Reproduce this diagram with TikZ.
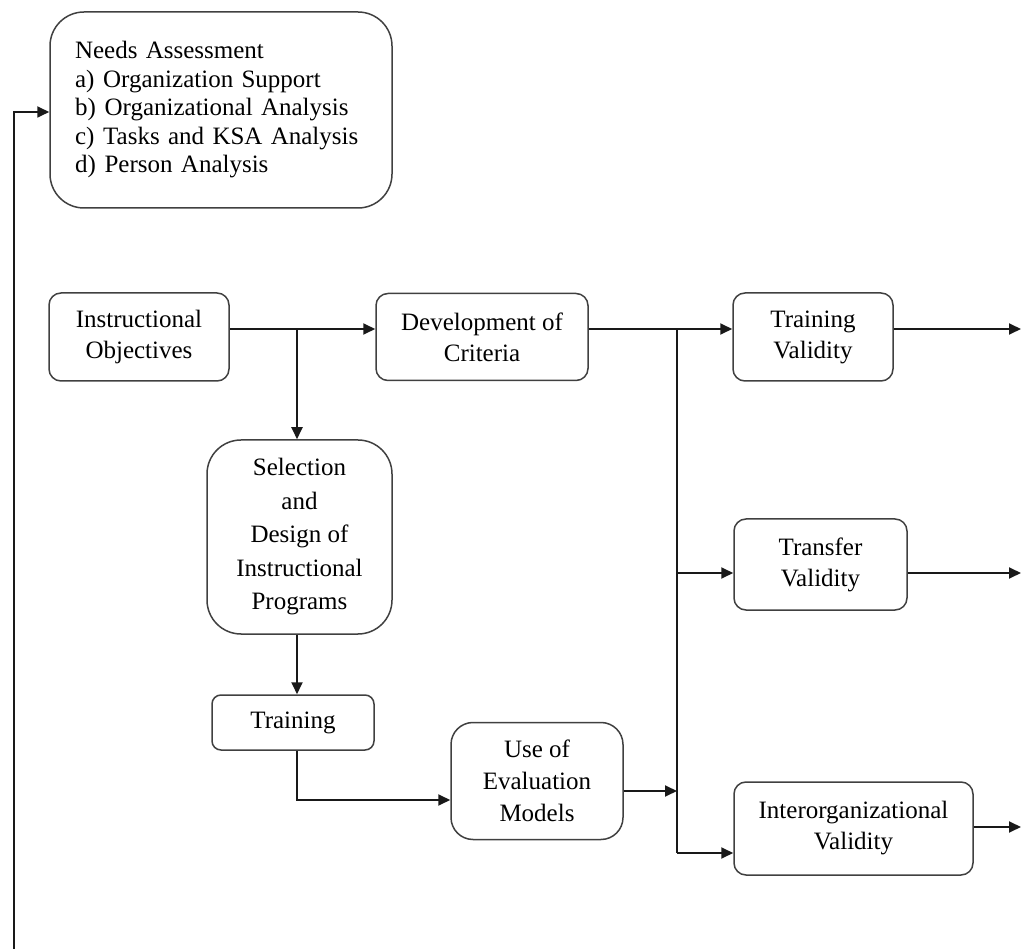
\documentclass[tikz,border=0pt]{standalone}
\usepackage{fontspec}
\setmainfont{Liberation Serif}
\usetikzlibrary{arrows.meta}
\begin{document}
\begin{tikzpicture}[x=1pt,y=-1pt,
  box/.style={draw=black!75, line width=1.5pt, rounded corners=12pt, align=center, inner sep=0pt,
    font=\fontsize{25}{31}\selectfont},
  bigbox/.style={box, rounded corners=34pt},
  conn/.style={line width=1.8pt, black!90},
  arr/.style={conn, -{Triangle[length=12pt,width=11pt]}}
]
\useasboundingbox (0,0) rectangle (1021,949);
\node[bigbox, minimum width=342pt, minimum height=196pt, text width=292pt, align=left,
  font=\fontsize{25}{28.5}\selectfont] (needs) at (221,110)
  {Needs Assessment\\a)\hspace{0.35em}Organization Support\\b)\hspace{0.35em}Organizational Analysis\\c)\hspace{0.35em}Tasks and KSA Analysis\\d)\hspace{0.35em}Person Analysis};
\node[box, minimum width=180pt, minimum height=88pt] (io) at (139,337) {Instructional\\Objectives};
\node[box, minimum width=212pt, minimum height=87pt] (dc) at (482,337) {Development of\\Criteria};
\node[box, minimum width=160pt, minimum height=88pt] (tv) at (813,337) {Training\\Validity};
\node[bigbox, minimum width=185pt, minimum height=194pt, font=\fontsize{25}{33.5}\selectfont] (sd) at (299.5,537) {Selection\\and\\Design of\\Instructional\\Programs};
\node[box, minimum width=173pt, minimum height=91pt] (trv) at (820.5,564.5) {Transfer\\Validity};
\node[box, minimum width=162pt, minimum height=55pt, rounded corners=9pt] (tr) at (293,722.5) {Training};
\node[box, minimum width=172pt, minimum height=117pt, rounded corners=22pt, font=\fontsize{25}{32}\selectfont] (ue) at (537,781) {Use of\\Evaluation\\Models};
\node[box, minimum width=239pt, minimum height=93pt] (iv) at (853.5,828.5) {Interorganizational\\Validity};

\coordinate (fb) at (14,949);
\coordinate (j1) at (297,329);
\coordinate (vtop) at (677,329);
\coordinate (vj) at (677,853);
\coordinate (o1) at (1021,329);
\coordinate (o2) at (1021,573);
\coordinate (o3) at (1021,827);

\draw[arr] (fb) |- (needs.west |- 0,112);
\draw[arr] (io.east |- j1) -- (dc.west |- j1);
\draw[arr] (j1) -- (j1 |- sd.north);
\draw[arr] (j1 |- sd.south) -- (j1 |- tr.north);
\draw[arr] (j1 |- tr.south) |- (ue.west |- 0,800);
\draw[arr] (ue.east |- 0,791) -- (vtop |- 0,791);
\draw[arr] (dc.east |- vtop) -- (tv.west |- vtop);
\draw[conn] (vtop) -- (vj);
\draw[arr] (vj) -- (iv.west |- vj);
\draw[arr] (vtop |- 0,573) -- (trv.west |- 0,573);
\draw[arr] (tv.east |- o1) -- (o1);
\draw[arr] (trv.east |- o2) -- (o2);
\draw[arr] (iv.east |- o3) -- (o3);
\end{tikzpicture}
\end{document}
